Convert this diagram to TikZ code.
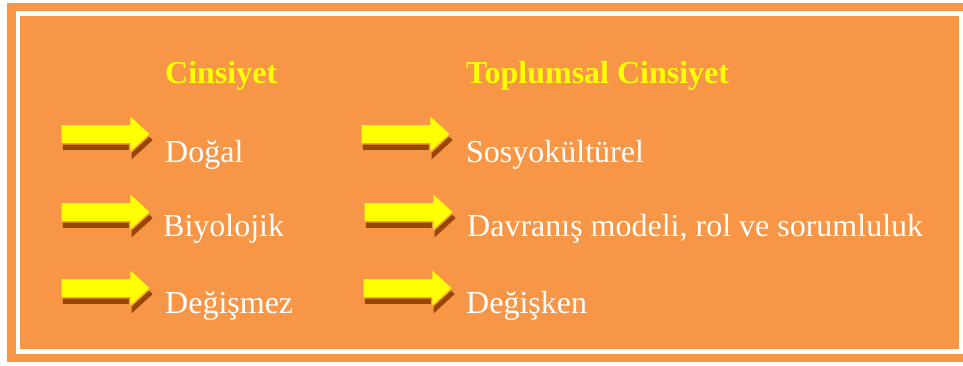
\documentclass[tikz,border=0pt]{standalone}
\usepackage{fontspec}
\setmainfont{Liberation Serif}
\usetikzlibrary{shapes.arrows,shadows}
\definecolor{bgorange}{HTML}{F79646}
\definecolor{shadowbrown}{HTML}{984806}
\definecolor{arrowyellow}{HTML}{FFFF00}
\begin{document}
\begin{tikzpicture}[x=1bp, y=-1bp,
    bigarrow/.style ={single arrow, fill=arrowyellow, draw=bgorange, line width=1.5bp,
      inner xsep=0pt, inner ysep=9bp, minimum height=90bp,
      single arrow head extend=9.5bp, single arrow tip angle=85, anchor=tail,
      general shadow={fill=shadowbrown, shadow xshift=2bp, shadow yshift=-6bp}},
    heading/.style ={anchor=base west, inner sep=0pt, text=arrowyellow,
      font=\fontsize{32bp}{36bp}\selectfont\bfseries},
    item/.style ={anchor=base west, inner sep=0pt, text=white,
      font=\fontsize{32bp}{36bp}\selectfont}]
   \useasboundingbox[fill=white] (0,0) rectangle (963,365);
   \fill[bgorange] (7,3) rectangle (963,362);
   \draw[white, line width=4.5bp] (18,13.5) rectangle (961,351.5);
   \node[heading] (cins)  at (165,83)  {Cinsiyet};
   \node[heading] (topl)  at (466,83)  {Toplumsal Cinsiyet};
   \node[bigarrow] (a1)  at (60,134)  {};
   \node[bigarrow] (a2)  at (60,212)  {};
   \node[bigarrow] (a3)  at (60,288)  {};
   \node[bigarrow] (b1)  at (360,134)  {};
   \node[bigarrow] (b2)  at (363,212)  {};
   \node[bigarrow] (b3)  at (362,288)  {};
   \node[item] (dogal)  at (165,162)  {Doğal};
   \node[item] (biyo)  at (163,236)  {Biyolojik};
   \node[item] (degis)  at (165,313)  {Değişmez};
   \node[item] (sosyo)  at (466,162)  {Sosyokültürel};
   \node[item] (davr)  at (467,236)  {Davranış modeli, rol ve sorumluluk};
   \node[item] (degsk)  at (466,313)  {Değişken};
 \end{tikzpicture}
\end{document}
